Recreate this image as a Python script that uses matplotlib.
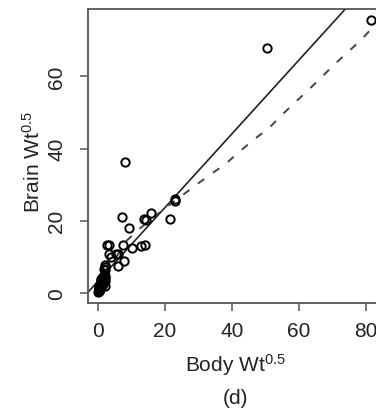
import matplotlib
matplotlib.use("Agg")
import matplotlib.pyplot as plt
import numpy as np

plt.rcParams["font.family"] = ["Liberation Sans", "DejaVu Sans"]
plt.rcParams["mathtext.fontset"] = "custom"
plt.rcParams["mathtext.rm"] = "Liberation Sans"
plt.rcParams["mathtext.default"] = "regular"

# square roots of body weight (kg) and brain weight (g) for 62 mammal species
body_sqrt = [
    1.84, 0.69, 1.16, 21.56, 6.03, 5.26, 3.85, 1.02, 2.05, 0.65,
    0.32, 0.96, 1.00, 0.07, 0.24, 1.87, 1.41, 1.30, 50.47, 0.15,
    13.68, 22.83, 0.89, 3.16, 1.82, 0.45, 1.19, 23.00, 14.39, 9.22,
    0.87, 7.87, 81.57, 1.87, 2.61, 5.92, 2.01, 0.35, 0.15, 0.10,
    1.18, 15.81, 1.58, 7.45, 10.00, 7.22, 3.25, 0.74, 7.75, 1.90,
    2.07, 0.53, 0.27, 0.35, 0.22, 13.86, 1.73, 12.65, 0.95, 1.27,
    0.32, 2.06,
]
brain_sqrt = [
    6.67, 3.94, 2.85, 20.57, 10.93, 10.72, 9.91, 2.35, 7.62, 2.53,
    2.00, 2.39, 2.57, 0.37, 1.00, 3.29, 3.51, 2.51, 67.85, 0.55,
    20.47, 25.59, 1.87, 10.72, 5.06, 2.24, 4.18, 26.08, 20.15, 18.03,
    3.51, 36.33, 75.58, 1.97, 13.38, 7.48, 4.12, 1.00, 0.63, 0.50,
    3.54, 22.14, 3.48, 13.23, 12.53, 20.98, 13.40, 1.55, 9.00, 4.58,
    6.26, 1.38, 1.10, 1.73, 0.57, 13.42, 5.00, 13.00, 1.61, 3.38,
    1.58, 7.10,
]

# smooth curve through the scatter (dashed)
smooth_x = [0.07, 1.0, 2.0, 4.0, 6.0, 8.5, 12.0, 16.0, 20.0, 24.5, 29.5,
            33.9, 38.4, 42.2, 46.4, 50.9, 54.4, 58.4, 62.4, 66.4, 70.3,
            74.8, 78.4, 81.57]
smooth_y = [1.0, 2.8, 4.6, 7.8, 10.9, 14.5, 17.5, 20.6, 23.5, 26.6, 30.1,
            33.0, 36.0, 39.1, 42.4, 45.5, 48.8, 52.4, 55.8, 59.4, 63.0,
            66.8, 69.9, 73.0]

x_ticks = [0, 20, 40, 60, 80]
y_ticks = [0, 20, 40, 60]

W, H = 376, 410
fig = plt.figure(figsize=(W / 100, H / 100), dpi=100)
ax = fig.add_axes([87.6 / W, 1 - 303.5 / H, (381.8 - 87.6) / W, (303.5 - 10.2) / H])

ax.plot(body_sqrt, brain_sqrt, "o", ms=6, mfc="none", mec="black", mew=1.4,
        zorder=3)

# least-squares line across the whole panel
slope, intercept = np.polyfit(body_sqrt, brain_sqrt, 1)
ax.axline((0, intercept), slope=slope, color="#222222", lw=1.2)

ax.plot(smooth_x, smooth_y, color="#444444", lw=1.4, dashes=(4, 5.5))

ax.set_xlim(-3.19, 84.83)
ax.set_ylim(-2.63, 78.59)
ax.set_xticks(x_ticks)
ax.set_yticks(y_ticks)

for side in ("left", "bottom", "top", "right"):
    ax.spines[side].set_color("#555555")
    ax.spines[side].set_linewidth(1.3)
ax.tick_params(axis="both", direction="out", length=5.5, width=1.1,
               color="#555555", labelsize=15, labelcolor="#222222")
ax.tick_params(axis="x", pad=7.5)
ax.tick_params(axis="y", pad=10)
for lbl in ax.get_yticklabels():
    lbl.set_rotation(90)
    lbl.set_va("center")

fig.text(235 / W, 1 - 365 / H, r"Body Wt$^{0.5}$", ha="center", va="center",
         fontsize=15, color="#222222")
fig.text(33 / W, 1 - 162 / H, r"Brain Wt$^{0.5}$", ha="center", va="center",
         rotation=90, fontsize=15, color="#222222")
fig.text(235 / W, 1 - 399 / H, "(d)", ha="center", va="center",
         fontsize=15, color="#222222")

fig.savefig("out.png", dpi=100)
